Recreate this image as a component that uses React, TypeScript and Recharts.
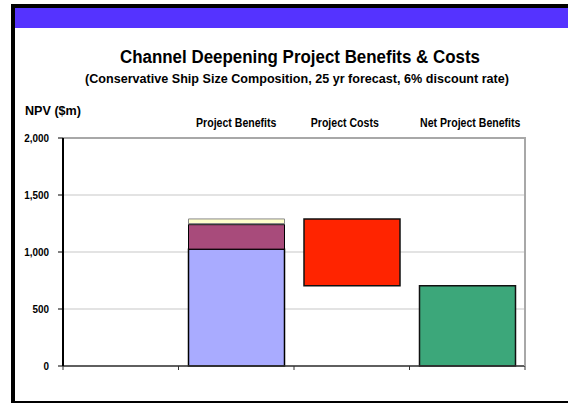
import React from 'react';
import { BarChart, Bar, XAxis, YAxis, CartesianGrid, ReferenceLine } from 'recharts';

const categories = ['', 'Project Benefits', 'Project Costs', 'Net Project Benefits'];
const benefitsBase: (number | null)[] = [null, 1025, null, null];
const benefitsMid: (number | null)[] = [null, 215, null, null];
const benefitsThin: (number | null)[] = [null, 10, null, null];
const benefitsTop: (number | null)[] = [null, 40, null, null];
const costsOffset: (number | null)[] = [null, null, 705, null];
const costs: (number | null)[] = [null, null, 585, null];
const netBenefits: (number | null)[] = [null, null, null, 705];
const yTicks = [0, 500, 1000, 1500, 2000];

const data = categories.map((name, i) => ({
  name,
  base: benefitsBase[i],
  mid: benefitsMid[i],
  thin: benefitsThin[i],
  top: benefitsTop[i],
  offset: costsOffset[i],
  costs: costs[i],
  net: netBenefits[i],
}));

const FONT = '"Liberation Sans", Arial, sans-serif';
const labelNudge = [0, 0, -7, 3];

const BottomTick = (props: any) => {
  const { x, y, payload, index } = props;
  const off = payload && payload.offset ? payload.offset : 0;
  const last = index === categories.length - 1;
  return (
    <g>
      <line x1={x - off} x2={x - off} y1={y} y2={y + 4} stroke="#333" strokeWidth={1} />
      {last && <line x1={x + off} x2={x + off} y1={y} y2={y + 4} stroke="#333" strokeWidth={1} />}
    </g>
  );
};

const TopTick = (props: any) => {
  const { x, y, payload, index } = props;
  return (
    <g transform={`translate(${x + (labelNudge[index] || 0)},${y - 11}) scale(0.88,1)`}>
      <text x={0} y={0} textAnchor="middle" fontFamily={FONT} fontWeight="bold" fontSize={12} fill="#000">
        {payload.value}
      </text>
    </g>
  );
};

const YTick = (props: any) => {
  const { x, y, payload } = props;
  return (
    <g transform={`translate(${x},${y + 4}) scale(0.9,1)`}>
      <text x={0} y={0} textAnchor="end" fontFamily={FONT} fontWeight="bold" fontSize={11} fill="#000">
        {payload.value.toLocaleString('en-US')}
      </text>
    </g>
  );
};

export default function App() {
  return (
    <div style={{ position: 'absolute', left: 0, top: 0, width: 568, height: 403, background: '#fff' }}>
      <svg width={568} height={403} style={{ position: 'absolute', left: 0, top: 0 }}>
        <rect x={11} y={4} width={557} height={4} fill="#000" />
        <rect x={15} y={8} width={553} height={20} fill="#5533FF" />
        <rect x={11} y={4} width={4} height={399} fill="#000" />
        <rect x={11} y={401} width={557} height={2} fill="#000" />
        <text x={300} y={63} textAnchor="middle" fontFamily={FONT} fontWeight="bold" fontSize={18}
          textLength={360} lengthAdjust="spacingAndGlyphs">Channel Deepening Project Benefits &amp; Costs</text>
        <text x={297} y={83} textAnchor="middle" fontFamily={FONT} fontWeight="bold" fontSize={13.5}
          textLength={424} lengthAdjust="spacingAndGlyphs">(Conservative Ship Size Composition, 25 yr forecast, 6% discount rate)</text>
        <text x={25} y={115} fontFamily={FONT} fontWeight="bold" fontSize={13}
          textLength={56} lengthAdjust="spacingAndGlyphs">NPV ($m)</text>
      </svg>
      <div style={{ position: 'absolute', left: 0, top: 0 }}>
        <BarChart width={568} height={403} data={data}
          margin={{ top: 118, right: 43, bottom: 27, left: 13 }} barSize={96}>
          <CartesianGrid horizontal vertical={false} stroke="#DADADA" strokeWidth={1.5} />
          <ReferenceLine y={2000} stroke="#A8A8A8" strokeWidth={2} />
          <XAxis dataKey="name" xAxisId="bottom" height={10} tickSize={0} tickMargin={0}
            axisLine={{ stroke: '#333', strokeWidth: 1.5 }} tickLine={false} tick={<BottomTick />} interval={0} />
          <XAxis dataKey="name" xAxisId="top" orientation="top" height={20} tickSize={0} tickMargin={0}
            axisLine={false} tickLine={false} tick={<TopTick />} interval={0} />
          <YAxis domain={[0, 2000]} ticks={yTicks} width={50} tickSize={5} tickMargin={9}
            axisLine={{ stroke: '#000', strokeWidth: 2 }} tickLine={{ stroke: '#000' }} tick={<YTick />} interval={0} />
          <Bar dataKey="base" xAxisId="bottom" stackId="a" fill="#A9ABFF" stroke="#000" strokeWidth={1.5} isAnimationActive={false} />
          <Bar dataKey="mid" xAxisId="bottom" stackId="a" fill="#A84B7B" stroke="#000" strokeWidth={1} isAnimationActive={false} />
          <Bar dataKey="thin" xAxisId="bottom" stackId="a" fill="#4A4A4A" stroke="#333" strokeWidth={0.5} isAnimationActive={false} />
          <Bar dataKey="top" xAxisId="bottom" stackId="a" fill="#FFFFCC" stroke="#888" strokeWidth={1} isAnimationActive={false} />
          <Bar dataKey="offset" xAxisId="bottom" stackId="a" fill="transparent" stroke="none" isAnimationActive={false} />
          <Bar dataKey="costs" xAxisId="bottom" stackId="a" fill="#FF2400" stroke="#111" strokeWidth={1.5} isAnimationActive={false} />
          <Bar dataKey="net" xAxisId="bottom" stackId="a" fill="#3CA77A" stroke="#111" strokeWidth={1.5} isAnimationActive={false} />
        </BarChart>
      </div>
      <svg width={568} height={403} style={{ position: 'absolute', left: 0, top: 0, pointerEvents: 'none' }}>
        <line x1={525} x2={525} y1={137} y2={366} stroke="#A8A8A8" strokeWidth={2} />
      </svg>
    </div>
  );
}
